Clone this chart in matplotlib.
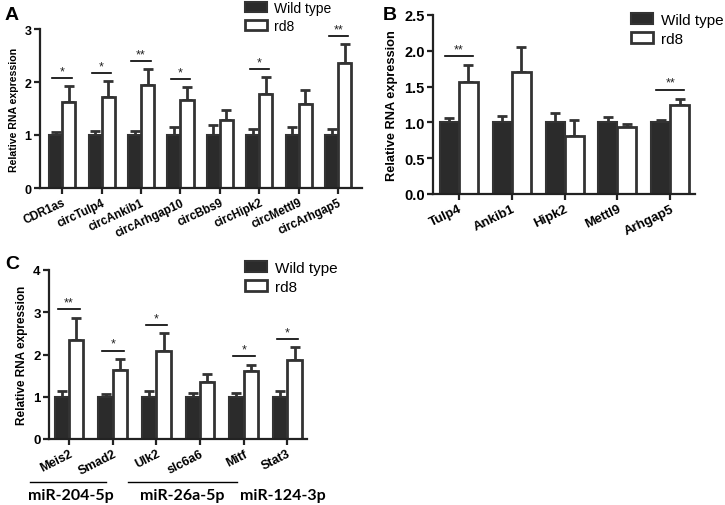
import matplotlib
matplotlib.use("Agg")
import matplotlib.pyplot as plt
import numpy as np
from matplotlib.patches import Patch
from matplotlib.lines import Line2D

plt.rcParams['font.family'] = ['Liberation Sans', 'DejaVu Sans']

# ---------------- data ----------------
cats_A = ['CDR1as', 'circTulp4', 'circAnkib1', 'circArhgap10', 'circBbs9',
          'circHipk2', 'circMettl9', 'circArhgap5']
wt_A = [1.0, 1.0, 1.0, 1.0, 1.0, 1.0, 1.0, 1.0]
wt_err_A = [0.06, 0.08, 0.08, 0.15, 0.18, 0.12, 0.16, 0.12]
rd8_A = [1.63, 1.72, 1.94, 1.66, 1.29, 1.78, 1.58, 2.35]
rd8_err_A = [0.29, 0.30, 0.30, 0.24, 0.18, 0.31, 0.27, 0.37]
sig_A = ['*', '*', '**', '*', '', '*', '', '**']

cats_B = ['Tulp4', 'Ankib1', 'Hipk2', 'Mettl9', 'Arhgap5']
wt_B = [1.0, 1.0, 1.0, 1.0, 1.0]
wt_err_B = [0.06, 0.09, 0.13, 0.08, 0.04]
rd8_B = [1.56, 1.71, 0.81, 0.93, 1.24]
rd8_err_B = [0.24, 0.35, 0.22, 0.05, 0.09]
sig_B = ['**', '', '', '', '**']

cats_C = ['Meis2', 'Smad2', 'Ulk2', 'slc6a6', 'Mitf', 'Stat3']
wt_C = [1.0, 1.0, 1.0, 1.0, 1.0, 1.0]
wt_err_C = [0.13, 0.06, 0.14, 0.08, 0.10, 0.14]
rd8_C = [2.35, 1.63, 2.09, 1.36, 1.60, 1.87]
rd8_err_C = [0.52, 0.26, 0.41, 0.18, 0.16, 0.30]
sig_C = ['**', '*', '*', '', '*', '*']
groups_C = ['miR-204-5p', 'miR-26a-5p', 'miR-124-3p']

DARK = '#2b2b2b'
EDGE = '#333333'

fig = plt.figure(figsize=(7.25, 5.06), dpi=100)
W, H = 725.0, 506.0


def fx(px):
    return px / W


def fy(py):
    return 1 - py / H


def ax_px(left, top, right, bottom):
    return fig.add_axes([left / W, 1 - bottom / H, (right - left) / W, (bottom - top) / H])


def draw_panel(ax, cats, wt, wt_err, rd8, rd8_err, sig, bw, ymax, yticks, yfmt, xlim, rot,
               tfs, yfs, lfs):
    x = np.arange(len(cats))
    ax.bar(x - bw / 2, wt, bw, color=DARK, edgecolor=EDGE, linewidth=1.5, zorder=2)
    ax.bar(x + bw / 2, rd8, bw, color='white', edgecolor=EDGE, linewidth=2.0, zorder=2)
    ax.errorbar(x - bw / 2, wt, yerr=[np.zeros(len(wt)), wt_err], fmt='none',
                ecolor=EDGE, elinewidth=2.0, capsize=3.5, capthick=2.0, zorder=1)
    ax.errorbar(x + bw / 2, rd8, yerr=[np.zeros(len(rd8)), rd8_err], fmt='none',
                ecolor=EDGE, elinewidth=2.0, capsize=3.5, capthick=2.0, zorder=1)
    for i, s in enumerate(sig):
        if s:
            top = max(wt[i] + wt_err[i], rd8[i] + rd8_err[i]) + 0.05 * ymax
            ax.plot([x[i] - bw * 0.75, x[i] + bw * 0.75], [top, top], color='black', lw=1.2)
            ax.text(x[i], top + 0.005 * ymax, s, ha='center', va='bottom', fontsize=9,
                    color='#222222')
    ax.set_ylim(0, ymax)
    ax.set_xlim(*xlim)
    ax.set_yticks(yticks)
    ax.set_yticklabels([yfmt.format(v) for v in yticks], fontweight='bold', fontsize=yfs)
    ax.set_xticks(x)
    ax.set_xticklabels(cats, rotation=rot, ha='right', rotation_mode='anchor',
                       fontweight='bold', fontsize=tfs)
    for sp in ['top', 'right']:
        ax.spines[sp].set_visible(False)
    for sp in ['left', 'bottom']:
        ax.spines[sp].set_linewidth(1.6)
        ax.spines[sp].set_color('#222222')
    ax.tick_params(axis='both', width=1.6, length=4, color='#222222', pad=2)
    ax.set_ylabel('Relative RNA expression', fontweight='bold', fontsize=lfs, labelpad=4)


def legend(ax, left, top, fs):
    handles = [Patch(facecolor=DARK, edgecolor=EDGE, lw=1.5, label='Wild type'),
               Patch(facecolor='white', edgecolor=EDGE, lw=2.0, label='rd8')]
    ax.legend(handles=handles, loc='upper left', bbox_to_anchor=(fx(left), fy(top)),
              bbox_transform=fig.transFigure,
              frameon=False, fontsize=fs, handlelength=1.45 * 11 / fs, handleheight=0.7,
              handletextpad=0.5, labelspacing=0.3, borderaxespad=0, borderpad=0)


# Panel A
axA = ax_px(40, 30, 362, 189)
draw_panel(axA, cats_A, wt_A, wt_err_A, rd8_A, rd8_err_A, sig_A, 0.33, 3,
           [0, 1, 2, 3], '{:d}', (-0.56, 7.6), 25, 8.4, 9, 7.6)
legend(axA, 245, 2, 10)
fig.text(fx(5), fy(15), 'A', fontsize=14, fontweight='bold', va='center')

# Panel B
axB = ax_px(433, 16, 695, 195)
draw_panel(axB, cats_B, wt_B, wt_err_B, rd8_B, rd8_err_B, sig_B, 0.36, 2.5,
           [0, 0.5, 1.0, 1.5, 2.0, 2.5], '{:.1f}', (-0.49, 4.47), 26, 9.5, 10.5, 9.2)
legend(axB, 631, 14, 11)
fig.text(fx(383), fy(15), 'B', fontsize=14, fontweight='bold', va='center')

# Panel C
axC = ax_px(49, 271, 307, 440)
draw_panel(axC, cats_C, wt_C, wt_err_C, rd8_C, rd8_err_C, sig_C, 0.33, 4,
           [0, 1, 2, 3, 4], '{:d}', (-0.46, 5.45), 27, 9, 9.5, 8.5)
legend(axC, 245, 262, 11)
fig.text(fx(5), fy(265), 'C', fontsize=14, fontweight='bold', va='center')

# miRNA group labels under panel C
for x0, x1 in [(30, 106), (128, 237)]:
    fig.add_artist(Line2D([fx(x0), fx(x1)], [fy(483), fy(483)], color='black', lw=1.0))
for cx, name in zip([71, 182, 283], groups_C):
    fig.text(fx(cx), fy(489), name, ha='center', va='top', fontsize=11.5,
             fontweight='bold', family=['Lato', 'DejaVu Sans'])

fig.savefig('out.png', dpi=100)
